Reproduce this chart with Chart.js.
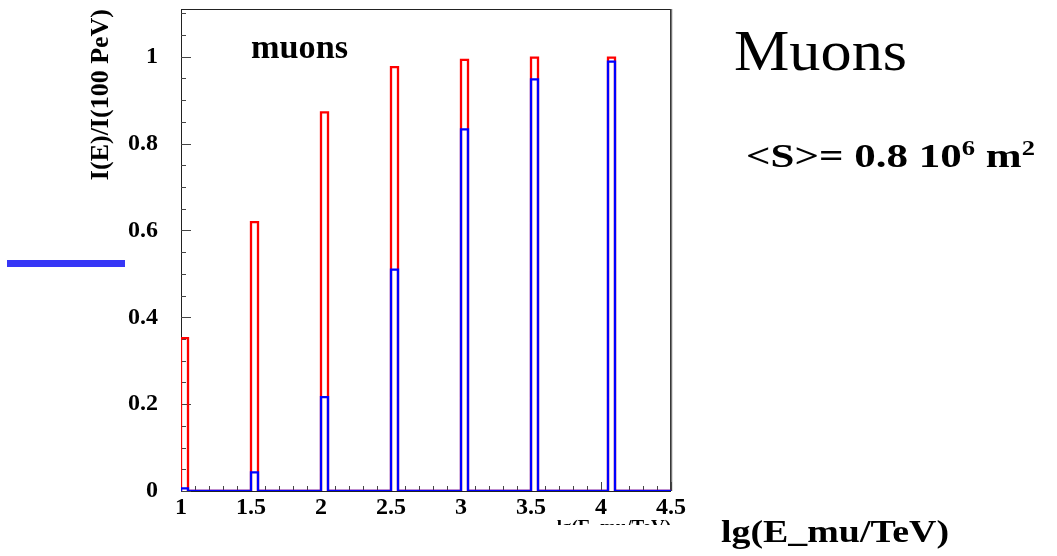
<!DOCTYPE html>
<html>
<head>
<meta charset="utf-8">
<script src="https://cdn.jsdelivr.net/npm/chart.js@4.4.1/dist/chart.umd.min.js"></script>
<style>
  html, body { margin: 0; padding: 0; background: #fff; }
  #wrap { position: relative; width: 1057px; height: 556px; }
  canvas { display: block; }
  #marker { position: absolute; left: 7px; top: 260px; width: 118px; height: 7px; background: #3636f6; }
</style>
</head>
<body>
<div id="wrap">
  <canvas id="c" width="1057" height="556"></canvas>
  <div id="marker"></div>
</div>
<script>
// Histogram bins (left edges, in lg(E/TeV)) and the bin width
const binStarts = [1.0, 1.5, 2.0, 2.5, 3.0, 3.5, 4.05];
const binWidth = 0.05;
// Bin contents, I(E)/I(100 PeV)
const redValues  = [0.352, 0.619, 0.872, 0.976, 0.993, 0.998, 0.998];
const blueValues = [0.006, 0.043, 0.216, 0.510, 0.833, 0.948, 0.989];
// Axis ticks
const xTickValues = [1, 1.5, 2, 2.5, 3, 3.5, 4, 4.5];
const yTickValues = [0, 0.2, 0.4, 0.6, 0.8, 1];
const xRange = [1, 4.5];
const yRange = [0, 1.11];

const SERIF = "'Liberation Serif', 'Times New Roman', serif";

// Outline of a histogram: baseline along the whole range, stepping up at each filled bin
function outline(values) {
  const pts = [{ x: xRange[0], y: 0 }];
  binStarts.forEach((x0, i) => {
    pts.push({ x: x0, y: 0 }, { x: x0, y: values[i] },
             { x: x0 + binWidth, y: values[i] }, { x: x0 + binWidth, y: 0 });
  });
  pts.push({ x: xRange[1], y: 0 });
  return pts;
}

// Frame and inward-pointing major/minor ticks, ROOT style
const frameTicks = {
  id: 'frameTicks',
  beforeDatasetsDraw(chart) {
    const { ctx, chartArea: a, scales: { x, y } } = chart;
    ctx.save();
    ctx.strokeStyle = '#222';
    ctx.lineWidth = 1;
    ctx.strokeRect(Math.round(a.left) + 0.5, Math.round(a.top) + 0.5,
                   Math.round(a.right - a.left) - 1, Math.round(a.bottom - a.top));
    ctx.strokeStyle = '#777';
    ctx.lineWidth = 1.5;
    ctx.beginPath();
    ctx.moveTo(Math.round(a.right) + 0.5, a.top); ctx.lineTo(Math.round(a.right) + 0.5, a.bottom);
    ctx.stroke();
    ctx.strokeStyle = '#444';
    ctx.lineWidth = 1;
    ctx.beginPath();
    for (let k = 0; k <= 22; k++) {
      const v = k * 0.05;
      if (v > yRange[1]) break;
      const py = Math.round(y.getPixelForValue(v)) + 0.5;
      const len = (k % 4 === 0) ? 10 : 5;
      ctx.moveTo(a.left, py); ctx.lineTo(a.left + len, py);
    }
    for (let k = 0; k <= 35; k++) {
      const v = xRange[0] + k * 0.1;
      const px = Math.round(x.getPixelForValue(v)) + 0.5;
      const len = (k % 5 === 0) ? 9 : 5;
      ctx.moveTo(px, a.bottom); ctx.lineTo(px, a.bottom - len);
    }
    ctx.stroke();
    ctx.restore();
  }
};

function drawRun(ctx, parts, x, baseline, targetWidth) {
  let w = 0;
  parts.forEach(p => { ctx.font = p.font; p.w = ctx.measureText(p.text).width; w += p.w; });
  const sx = targetWidth ? targetWidth / w : 1;
  ctx.save();
  ctx.translate(x, baseline);
  ctx.scale(sx, 1);
  ctx.textBaseline = 'alphabetic';
  ctx.textAlign = 'left';
  let cx = 0;
  parts.forEach(p => { ctx.font = p.font; ctx.fillText(p.text, cx, p.dy || 0); cx += p.w; });
  ctx.restore();
}

// Labels drawn over the canvas
const annotations = {
  id: 'annotations',
  afterDraw(chart) {
    const ctx = chart.ctx;
    ctx.save();
    ctx.fillStyle = '#fff';
    ctx.fillRect(500, 525, 215, 31);
    ctx.fillStyle = '#000';
    drawRun(ctx, [{ text: 'muons', font: `bold 34px ${SERIF}` }], 251, 58, 97);
    drawRun(ctx, [{ text: 'Muons', font: `58px ${SERIF}` }], 734, 70, 173);
    drawRun(ctx, [
      { text: '<S>= 0.8 10', font: `bold 34px ${SERIF}` },
      { text: '6', font: `bold 21px ${SERIF}`, dy: -12 },
      { text: ' m', font: `bold 34px ${SERIF}` },
      { text: '2', font: `bold 21px ${SERIF}`, dy: -12 }
    ], 746, 167, 289);
    drawRun(ctx, [{ text: 'lg(E_mu/TeV)', font: `bold 32px ${SERIF}` }], 721, 542, 228);
    ctx.restore();
  }
};

new Chart(document.getElementById('c'), {
  type: 'line',
  data: {
    datasets: [
      { data: outline(blueValues), borderColor: '#0000ff', borderWidth: 2.3, order: 1 },
      { data: outline(redValues),  borderColor: '#ff0000', borderWidth: 2.3, order: 2 }
    ]
  },
  options: {
    responsive: false,
    animation: false,
    devicePixelRatio: 1,
    layout: { padding: { left: 0, top: 9, right: 386, bottom: 0 } },
    elements: {
      line: { fill: false, tension: 0, stepped: true, borderJoinStyle: 'miter', borderCapStyle: 'butt' },
      point: { radius: 0, hoverRadius: 0 }
    },
    plugins: { legend: { display: false }, tooltip: { enabled: false } },
    scales: {
      x: {
        type: 'linear', min: xRange[0], max: xRange[1],
        afterFit: s => { s.height = 65; s.paddingLeft = 0; s.paddingRight = 0; },
        afterBuildTicks: s => { s.ticks = xTickValues.map(v => ({ value: v })); },
        grid: { display: false, drawTicks: false }, border: { display: false },
        ticks: { color: '#000', padding: 2, autoSkip: false, maxRotation: 0,
                 font: { family: SERIF, size: 24, weight: 'bold' }, callback: v => String(v) },
        title: { display: true, text: 'lg(E_mu/TeV)', align: 'end', color: '#000',
                 font: { family: SERIF, size: 19, weight: 'bold' }, padding: { top: 0, bottom: 17 } }
      },
      y: {
        type: 'linear', min: yRange[0], max: yRange[1],
        afterFit: s => { s.width = 181; s.paddingTop = 0; s.paddingBottom = 0; },
        afterBuildTicks: s => { s.ticks = yTickValues.map(v => ({ value: v })); },
        grid: { display: false, drawTicks: false }, border: { display: false },
        ticks: { color: '#000', padding: 23, font: { family: SERIF, size: 24, weight: 'bold' },
                 callback: v => String(v) },
        title: { display: true, text: 'I(E)/I(100 PeV)', align: 'end', color: '#000',
                 font: { family: SERIF, size: 26, weight: 'bold' }, padding: { top: 86, bottom: 0 } }
      }
    }
  },
  plugins: [frameTicks, annotations]
});
</script>
</body>
</html>
